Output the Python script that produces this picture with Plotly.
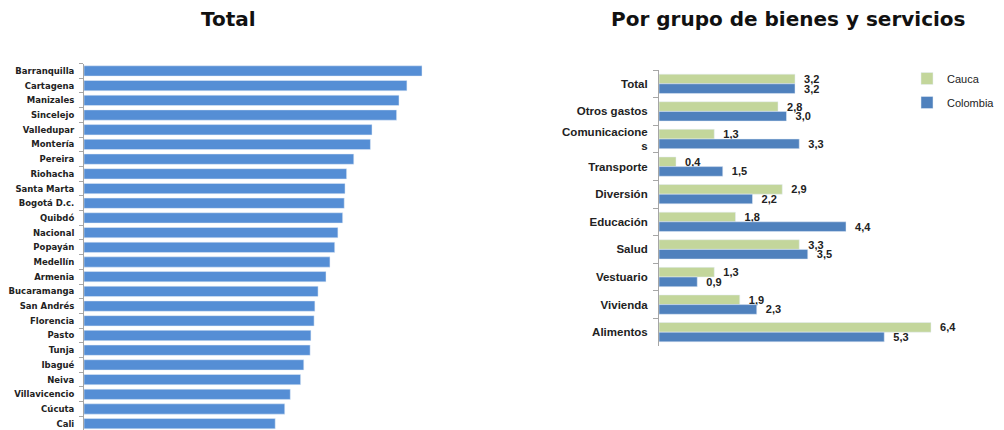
import plotly.graph_objects as go

# Left chart: Total by city
cities = ["Barranquilla", "Cartagena", "Manizales", "Sincelejo", "Valledupar", "Montería",
          "Pereira", "Riohacha", "Santa Marta", "Bogotá D.c.", "Quibdó", "Nacional", "Popayán",
          "Medellín", "Armenia", "Bucaramanga", "San Andrés", "Florencia", "Pasto", "Tunja",
          "Ibagué", "Neiva", "Villavicencio", "Cúcuta", "Cali"]
city_values = [4.26, 4.07, 3.97, 3.94, 3.63, 3.61, 3.40, 3.31, 3.29, 3.28, 3.26, 3.20, 3.16,
               3.10, 3.05, 2.95, 2.91, 2.90, 2.86, 2.85, 2.77, 2.73, 2.60, 2.53, 2.41]

# Right chart: by group of goods and services
groups = ["Total", "Otros gastos", "Comunicacione<br>s", "Transporte", "Diversión",
          "Educación", "Salud", "Vestuario", "Vivienda", "Alimentos"]
cauca = [3.2, 2.8, 1.3, 0.4, 2.9, 1.8, 3.3, 1.3, 1.9, 6.4]
colombia = [3.2, 3.0, 3.3, 1.5, 2.2, 4.4, 3.5, 0.9, 2.3, 5.3]

W, H = 1004, 430

def fmt(v):
    return "\u00a0\u00a0" + f"{v:.1f}".replace(".", ",")

fig = go.Figure()

fig.add_trace(go.Bar(
    x=city_values, y=cities, orientation="h", xaxis="x", yaxis="y",
    marker=dict(color="#558ED5"), showlegend=False, hoverinfo="x+y",
))

vfont = dict(family="Liberation Sans", size=11, color="#222222", weight="bold")
fig.add_trace(go.Bar(
    x=cauca, y=groups, orientation="h", xaxis="x2", yaxis="y2", name="Cauca",
    legendgroup="a", marker=dict(color="#C3D69B"),
    text=[fmt(v) for v in cauca], textposition="outside", cliponaxis=False,
    constraintext="none", textfont=vfont,
))
fig.add_trace(go.Bar(
    x=colombia, y=groups, orientation="h", xaxis="x2", yaxis="y2", name="Colombia",
    legendgroup="b", marker=dict(color="#4F81BD"),
    text=[fmt(v) for v in colombia], textposition="outside", cliponaxis=False,
    constraintext="none", textfont=vfont,
))

def px_x(p):
    return p / W

def px_y(p):
    return 1 - p / H

lx0, lx1 = 84, 84 + 338 * 4.6 / 4.26
ly_top = 63.6
fig.update_layout(
    width=W, height=H,
    margin=dict(l=0, r=0, t=0, b=0, autoexpand=False),
    paper_bgcolor="white", plot_bgcolor="white",
    barmode="group", bargap=0.3, bargroupgap=0,
    xaxis=dict(domain=[px_x(lx0), px_x(lx1)], range=[0, 4.6], visible=False, fixedrange=True),
    yaxis=dict(domain=[0, px_y(ly_top)], type="category", categoryorder="array",
               categoryarray=cities, range=[24.43, -0.5], automargin=False,
               showline=True, linecolor="#A6A6A6", linewidth=1,
               ticks="outside", tickson="boundaries", ticklen=4, tickcolor="#A6A6A6",
               tickfont=dict(family="DejaVu Sans", size=8.5, color="#222222", weight="bold"),
               ticklabelstandoff=7, showgrid=False, zeroline=False),
    xaxis2=dict(domain=[px_x(659), px_x(659 + 7 * 42.5)], range=[0, 7], visible=False,
                fixedrange=True, anchor="y2"),
    yaxis2=dict(domain=[px_y(346), px_y(70)], type="category", categoryorder="array",
                categoryarray=groups, range=[9.5, -0.5], anchor="x2", automargin=False,
                showline=True, linecolor="#A6A6A6", linewidth=1,
                ticks="outside", tickson="boundaries", ticklen=5, tickcolor="#A6A6A6",
                tickfont=dict(family="Liberation Sans", size=11.5, color="#222222", weight="bold"),
                ticklabelstandoff=8, showgrid=False, zeroline=False),
    legend=dict(x=px_x(907), y=px_y(64), xanchor="left", yanchor="top",
                font=dict(family="Liberation Sans", size=11, color="#222222"),
                traceorder="grouped", tracegroupgap=5, bgcolor="rgba(0,0,0,0)"),
    annotations=[
        dict(text="<b>Total</b>", x=px_x(228), y=px_y(19), xref="paper", yref="paper",
             xanchor="center", yanchor="middle",
             showarrow=False, font=dict(family="DejaVu Sans", size=20, color="#111111")),
        dict(text="<b>Por grupo de bienes y servicios</b>", x=px_x(788), y=px_y(19),
             xref="paper", yref="paper", xanchor="center", yanchor="middle", showarrow=False,
             font=dict(family="DejaVu Sans", size=20, color="#111111")),
    ],
)

fig.write_html(
    "out.html",
    config={"responsive": False, "displayModeBar": False},
    post_script="document.body.style.margin='0';document.body.style.overflow='hidden';",
)
